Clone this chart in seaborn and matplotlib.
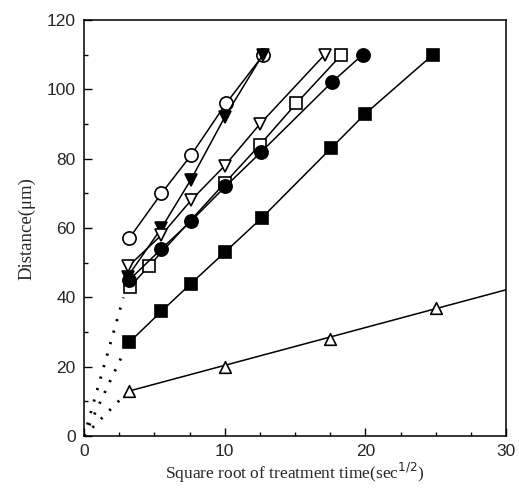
import matplotlib
matplotlib.use("Agg")
import matplotlib.pyplot as plt
import seaborn as sns
import pandas as pd
from matplotlib.ticker import MultipleLocator

sns.set_theme(style="ticks")
plt.rcParams['font.family'] = ['Liberation Sans', 'DejaVu Sans']

# series data (x = sqrt of treatment time, y = distance in um)
open_circle_x = [3.2, 5.5, 7.6, 10.1, 12.75]
open_circle_y = [57, 70, 81, 96, 110]

filled_tri_x = [3.1, 5.5, 7.6, 10.0, 12.7]
filled_tri_y = [46, 60, 74, 92, 110]

open_tri_down_x = [3.15, 5.5, 7.6, 10.0, 12.5, 17.1]
open_tri_down_y = [49, 58, 68, 78, 90, 110]

open_square_x = [3.25, 4.6, 10.0, 12.5, 15.1, 18.3]
open_square_y = [43, 49, 73, 84, 96, 110]

filled_circle_x = [3.2, 5.5, 7.6, 10.05, 12.6, 17.6, 19.8]
filled_circle_y = [45, 54, 62, 72, 82, 102, 110]

filled_square_x = [3.2, 5.5, 7.6, 10.0, 12.65, 17.55, 20.0, 24.8]
filled_square_y = [27, 36, 44, 53, 63, 83, 93, 110]

open_tri_up_x = [3.2, 10.0, 17.5, 25.0]
open_tri_up_y = [13, 20, 28, 37]
tri_up_fit_x = [3.2, 30.0]
tri_up_fit_y = [13, 42.2]

# dotted extrapolation lines to origin
dot_x = [0.0, 2.8]
dot_hi_y = [0.0, 40.0]
dot_mid_y = [0.0, 24.0]
dot_lo_y = [0.0, 11.5]

fig = plt.figure(figsize=(5.19, 4.90), dpi=100)
ax = fig.add_axes([0.162, 0.110, 0.813, 0.849])

series = [
    (open_circle_x, open_circle_y, 'o', 'white'),
    (filled_tri_x, filled_tri_y, 'v', 'black'),
    (open_tri_down_x, open_tri_down_y, 'v', 'white'),
    (open_square_x, open_square_y, 's', 'white'),
    (filled_circle_x, filled_circle_y, 'o', 'black'),
    (filled_square_x, filled_square_y, 's', 'black'),
]
for xs, ys, m, fc in series:
    df = pd.DataFrame({'x': xs, 'y': ys})
    sns.lineplot(data=df, x='x', y='y', ax=ax, color='black', lw=1.1,
                 marker=m, markersize=8.5 if m != 'o' else 9.5,
                 markerfacecolor=fc, markeredgecolor='black', markeredgewidth=1.2,
                 sort=False, estimator=None, zorder=3)

df_fit = pd.DataFrame({'x': tri_up_fit_x, 'y': tri_up_fit_y})
sns.lineplot(data=df_fit, x='x', y='y', ax=ax, color='black', lw=1.1,
             sort=False, estimator=None, zorder=2)
df_up = pd.DataFrame({'x': open_tri_up_x, 'y': open_tri_up_y})
sns.scatterplot(data=df_up, x='x', y='y', ax=ax, marker='^', s=70,
                facecolor='white', edgecolor='black', linewidth=1.2, zorder=4)

for dy in (dot_hi_y, dot_mid_y, dot_lo_y):
    d = pd.DataFrame({'x': dot_x, 'y': dy})
    sns.lineplot(data=d, x='x', y='y', ax=ax, color='black', lw=2.0,
                 linestyle=(0, (0.8, 3.5)), sort=False, estimator=None)

ax.set_xlim(0, 30)
ax.set_ylim(0, 120)
ax.xaxis.set_major_locator(MultipleLocator(10))
ax.xaxis.set_minor_locator(MultipleLocator(2.5))
ax.yaxis.set_major_locator(MultipleLocator(20))
ax.yaxis.set_minor_locator(MultipleLocator(10))
ax.tick_params(which='both', direction='in', color='black', width=1.0,
               top=False, right=False)
ax.tick_params(which='major', length=6, labelsize=12.5, pad=6)
ax.tick_params(which='minor', length=3)
for sp in ax.spines.values():
    sp.set_visible(True)
    sp.set_color('black')
    sp.set_linewidth(1.1)

ax.set_xlabel('Square root of treatment time(sec$^{1/2}$)',
              fontfamily='Liberation Serif', fontsize=12.5, labelpad=1)
ax.set_ylabel('Distance(μm)', fontfamily='Liberation Serif', fontsize=13.5,
              labelpad=8)
ax.grid(False)

fig.savefig('out.png', dpi=100)
